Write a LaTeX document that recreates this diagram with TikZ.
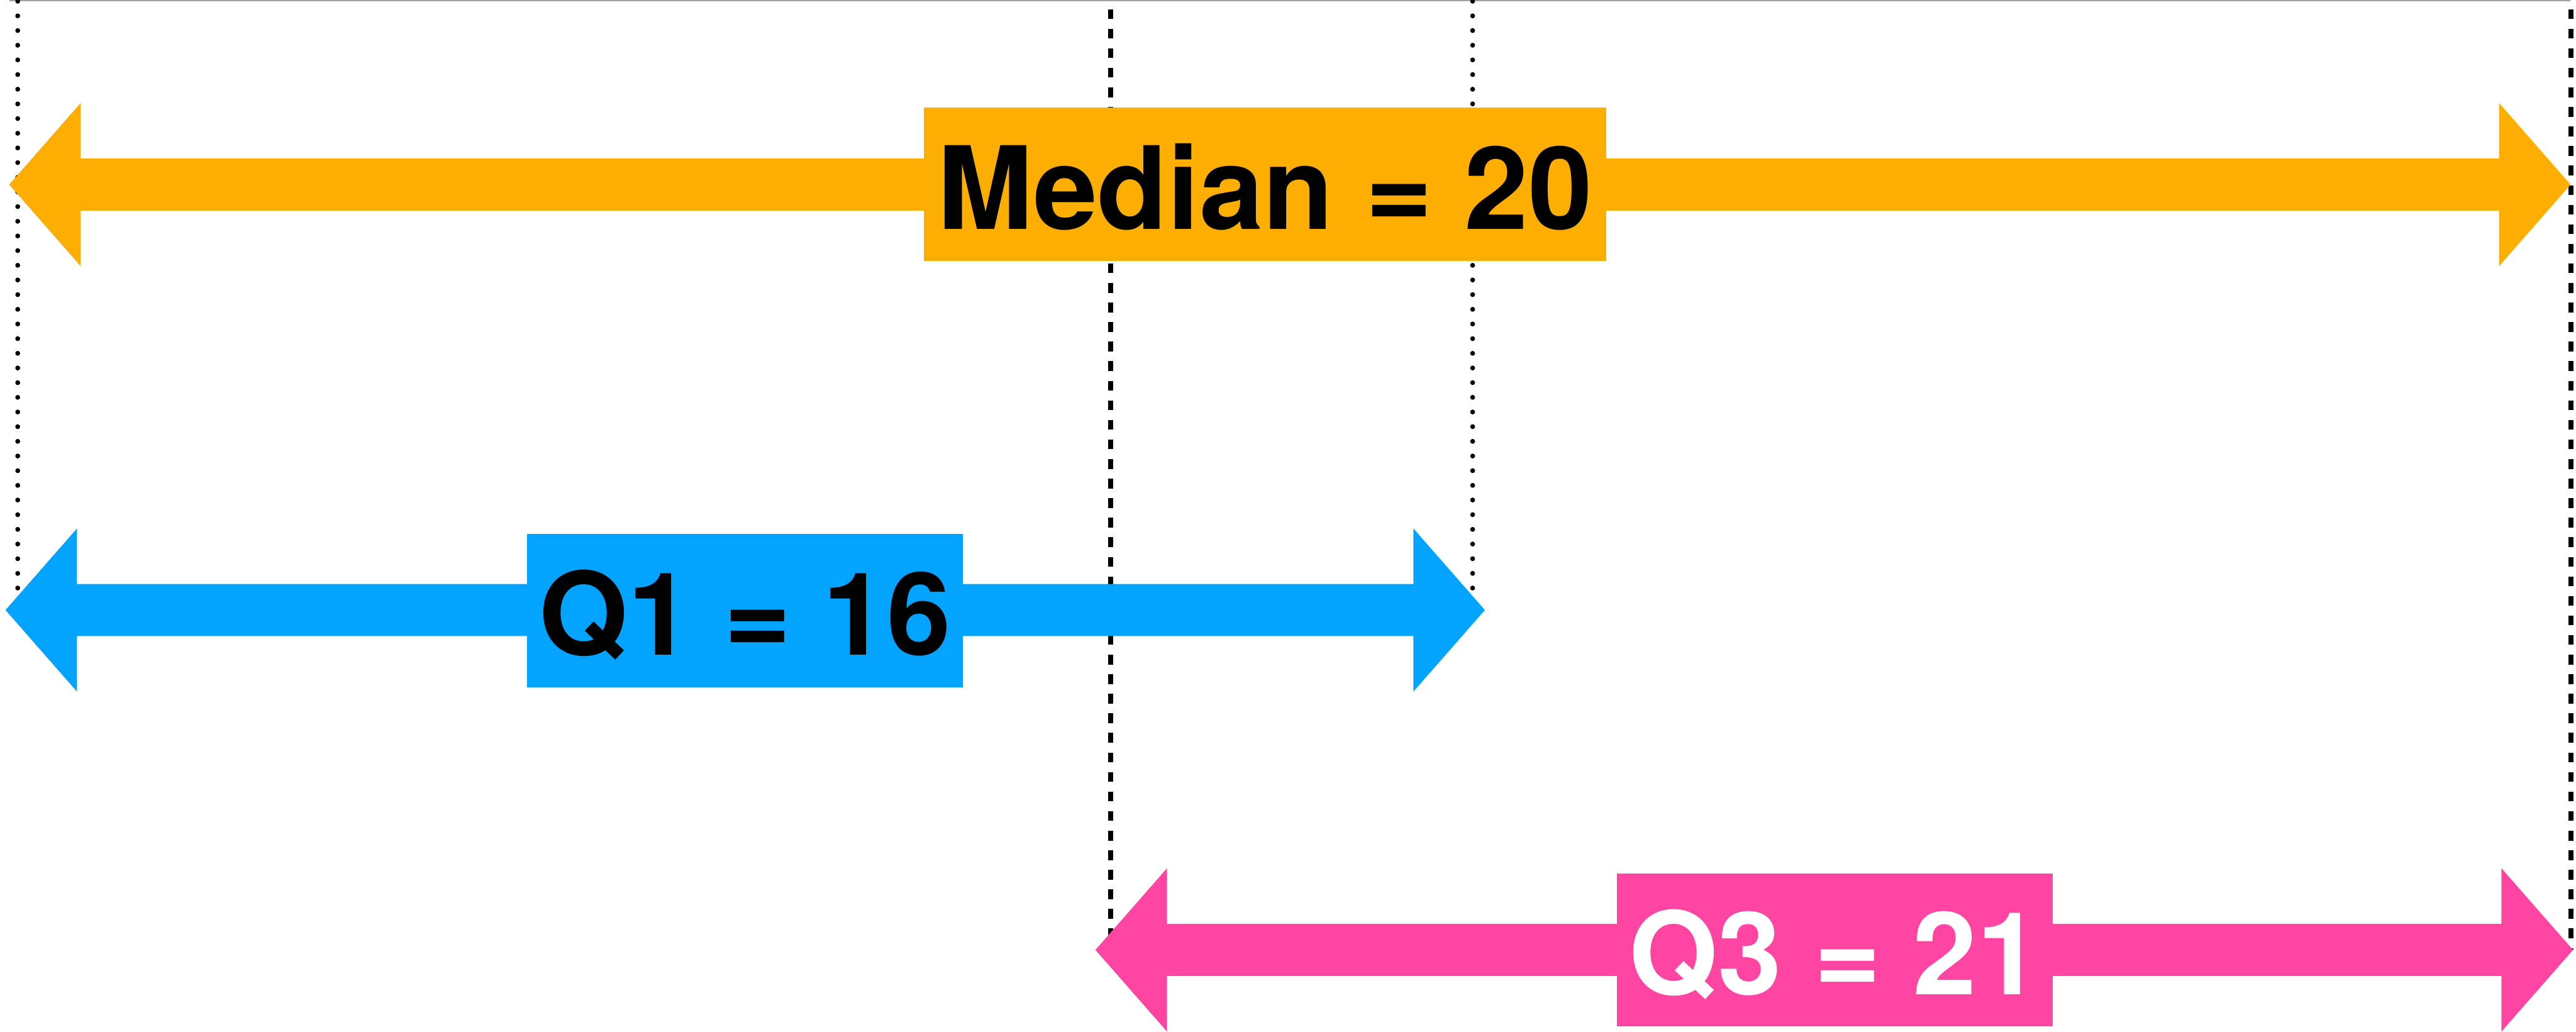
\documentclass[tikz,border=0pt]{standalone}
\usepackage{fontspec}
\setmainfont{TeX Gyre Heros}
\usetikzlibrary{calc}
\definecolor{medorange}{RGB}{253,174,2}
\definecolor{qoneblue}{RGB}{3,163,255}
\definecolor{qthreepink}{RGB}{255,69,161}
\definecolor{framegray}{RGB}{160,160,160}
\def\arrHL{1.17}
\def\arrHW{1.335}
\def\arrSW{0.425}
\newcommand\dblarrow[3]{%
  \fill[#1] (#2) -- ($(#2)+(\arrHL,\arrHW)$) -- ($(#2)+(\arrHL,\arrSW)$)
    -- ($(#3)+(-\arrHL,\arrSW)$) -- ($(#3)+(-\arrHL,\arrHW)$) -- (#3)
    -- ($(#3)+(-\arrHL,-\arrHW)$) -- ($(#3)+(-\arrHL,-\arrSW)$)
    -- ($(#2)+(\arrHL,-\arrSW)$) -- ($(#2)+(\arrHL,-\arrHW)$) -- cycle;}
\tikzset{
  dotline/.style={line width=0.08cm, line cap=round, dash pattern=on 0pt off 0.24cm},
  dashline/.style={line width=0.08cm, dash pattern=on 0.16cm off 0.16cm, dash phase=0.17cm},
  valbox/.style={rectangle, inner sep=0pt, minimum height=2.51cm,
    text height=1.46cm, text depth=0pt, font=\fontsize{53.5}{60}\selectfont\bfseries}
}
\begin{document}
\begin{tikzpicture}
\useasboundingbox (0,0) rectangle (42.14,16.88);
% frame top edge
\coordinate (ftl) at (0.15,16.87);
\coordinate (ftr) at (42.05,16.87);
\draw[framegray, line width=0.02cm] (ftl) -- (ftr);
% arrow end points
\coordinate (mL) at (0.15,13.86);
\coordinate (mR) at (42.05,13.86);
\coordinate (qL) at (0.09,6.90);
\coordinate (qR) at (24.29,6.90);
\coordinate (tL) at (17.92,1.34);
\coordinate (tR) at (42.09,1.34);
% guide lines
\coordinate (d1t) at (0.29,16.86);   \coordinate (d1b) at (0.29,6.90);
\coordinate (d2t) at (24.09,16.86);  \coordinate (d2b) at (24.09,6.90);
\coordinate (s1t) at (18.17,16.88);  \coordinate (s1b) at (18.17,1.34);
\coordinate (s2t) at (42.06,16.88);  \coordinate (s2b) at (42.06,1.34);
\draw[dotline] (d1t) -- (d1b);
\draw[dotline] (d2t) -- (d2b);
\draw[dashline] (s1t) -- (s1b);
\draw[dashline] (s2t) -- (s2b);
% arrows
\dblarrow{medorange}{mL}{mR}
\dblarrow{qoneblue}{qL}{qR}
\dblarrow{qthreepink}{tL}{tR}
% labels
\node[valbox, fill=medorange, minimum width=11.17cm, text=black] (med) at (20.695,13.865) {Median = 20};
\node[valbox, fill=qoneblue, minimum width=7.13cm, text=black] (q1) at (12.185,6.895) {Q1 = 16};
\node[valbox, fill=qthreepink, minimum width=7.13cm, text=white] (q3) at (30.015,1.34) {Q3 = 21};
\end{tikzpicture}
\end{document}
